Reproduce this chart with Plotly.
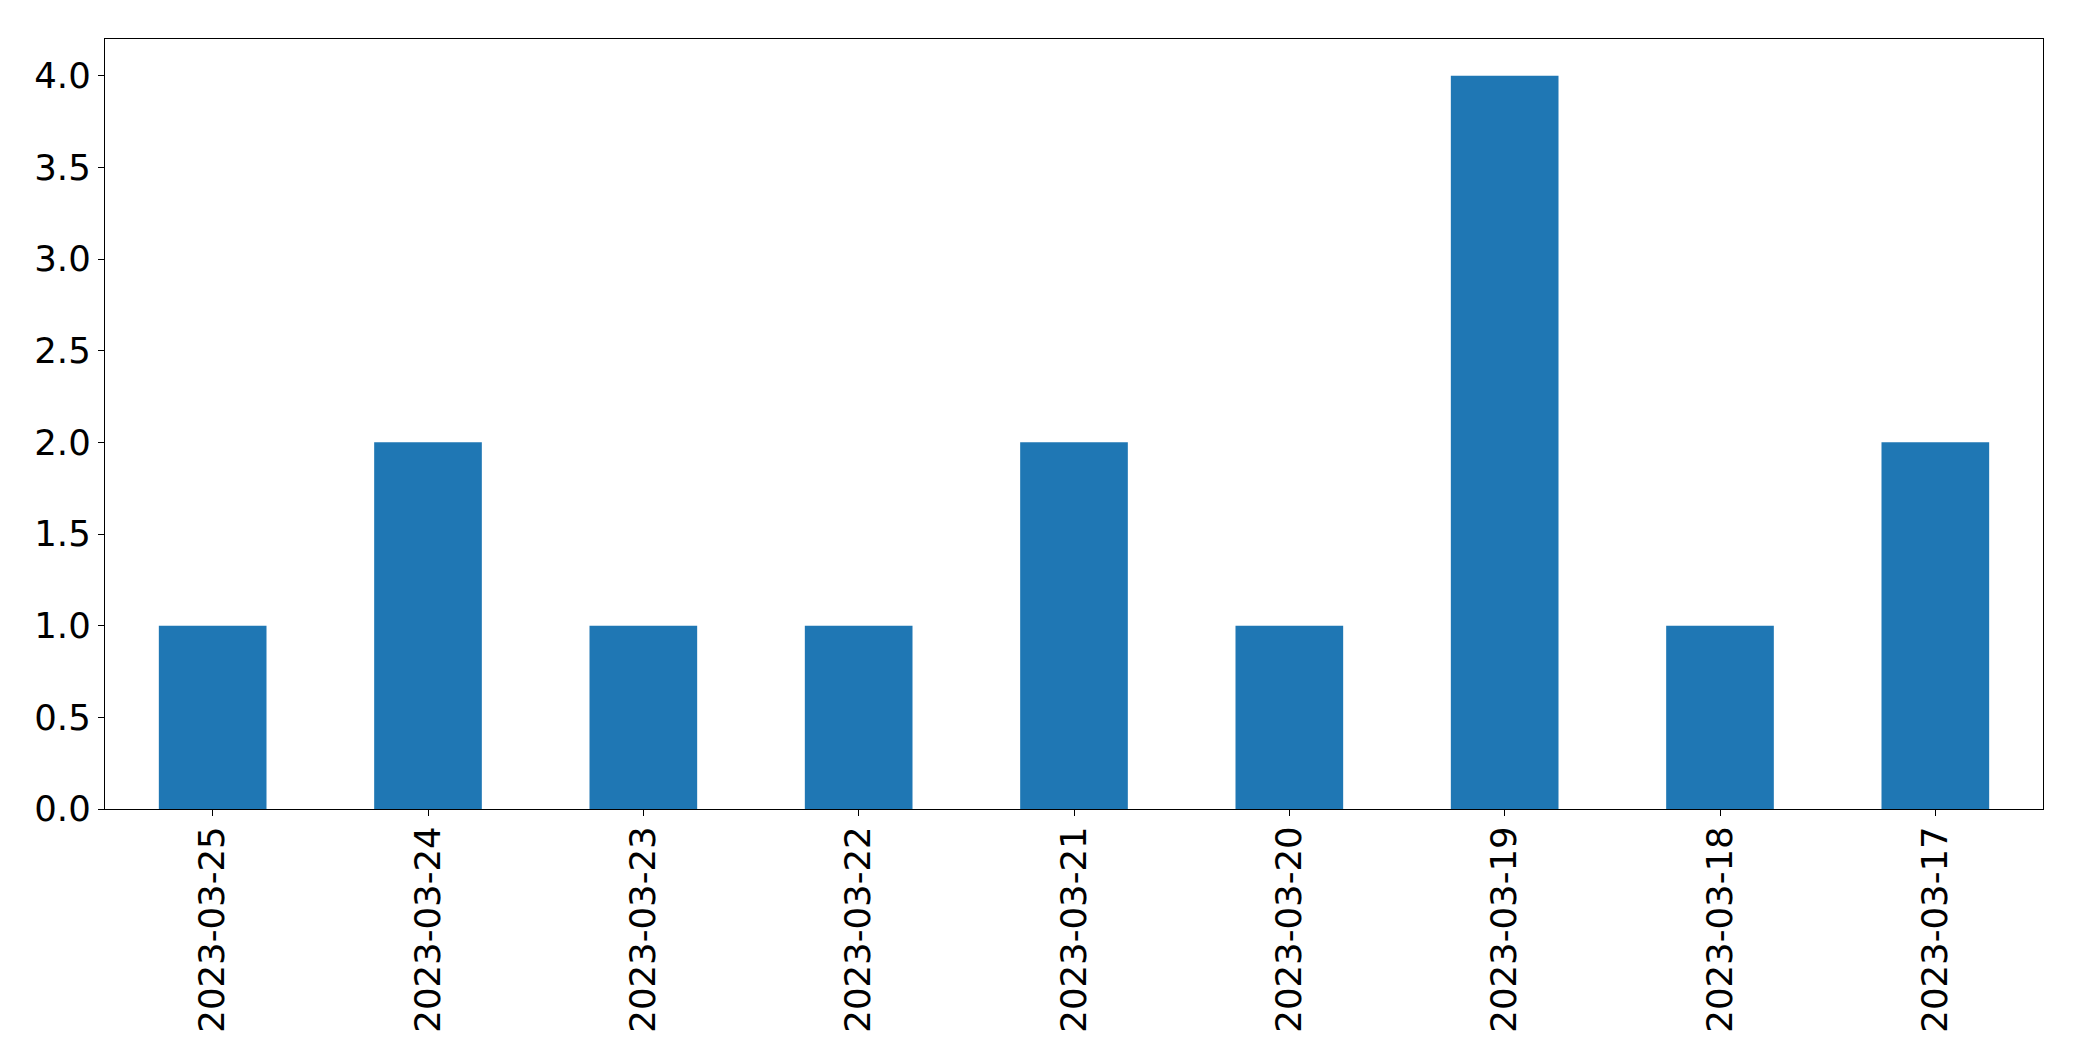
import plotly.graph_objects as go

dates = ["2023-03-25", "2023-03-24", "2023-03-23", "2023-03-22", "2023-03-21",
         "2023-03-20", "2023-03-19", "2023-03-18", "2023-03-17"]
counts = [1, 2, 1, 1, 2, 1, 4, 1, 2]
y_ticks = [0.0, 0.5, 1.0, 1.5, 2.0, 2.5, 3.0, 3.5, 4.0]

fig = go.Figure(go.Bar(x=dates, y=counts, marker=dict(color="#1f77b4", line=dict(width=0)), width=0.5))

font = dict(family="DejaVu Sans", size=35.5, color="black")
fig.update_layout(
    width=2066, height=1045,
    margin=dict(l=97, r=31, t=31, b=244, pad=0),
    paper_bgcolor="white", plot_bgcolor="white",
    showlegend=False, font=font,
)
fig.update_xaxes(
    type="category", range=[-0.5, 8.5], tickangle=-90,
    showline=True, linecolor="black", linewidth=1.3, mirror=True,
    ticks="outside", ticklen=6, tickcolor="black", tickwidth=1.3,
    showgrid=False, zeroline=False, tickfont=font, automargin=False,
    ticklabelstandoff=-4,
)
fig.update_yaxes(
    range=[0, 4.2], tickvals=y_ticks, ticktext=[f"{v:.1f}" for v in y_ticks],
    showline=True, linecolor="black", linewidth=1.3, mirror=True,
    ticks="outside", ticklen=6, tickcolor="black", tickwidth=1.3,
    showgrid=False, zeroline=False, tickfont=font, automargin=False,
)
fig.write_html("out.html")
